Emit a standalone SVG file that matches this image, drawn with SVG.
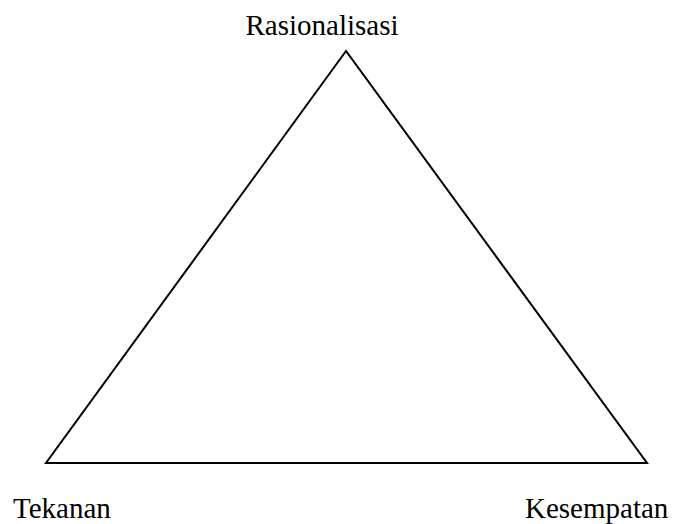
<svg xmlns="http://www.w3.org/2000/svg" width="674" height="524" viewBox="0 0 674 524">
<style>
.lbl{font-family:"Liberation Serif","Times New Roman",serif;font-size:29px;fill:#000}
.edge{fill:none;stroke:#000;stroke-width:2}
</style>
<rect width="674" height="524" fill="#fff"/>
<g id="connectors">
<polygon class="edge" points="346,51 46,463 647,463"/>
</g>
<g id="node-rasionalisasi"><text class="lbl" x="322" y="35" text-anchor="middle">Rasionalisasi</text></g>
<g id="node-tekanan"><text class="lbl" x="13" y="518">Tekanan</text></g>
<g id="node-kesempatan"><text class="lbl" x="525" y="518">Kesempatan</text></g>
</svg>
